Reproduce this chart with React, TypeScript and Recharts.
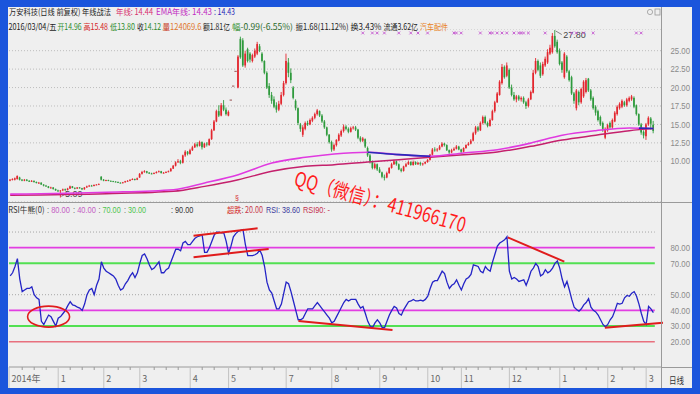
import React from "react";
import { ComposedChart, Bar, Line, XAxis, YAxis, CartesianGrid, ReferenceLine, ReferenceDot } from "recharts";

const UP = "#e3262e";
const DOWN = "#2e9a3c";
const FONT = '"Liberation Sans", Arial, "Noto Sans CJK SC", sans-serif';
const CJK = '"Noto Sans CJK SC", "Liberation Sans", sans-serif';

const opens = [
  7.4,7.5,7.5,7.6,7.8,7.5,7.4,7.5,7.35,7.3,
  7.35,7.2,7.05,7.1,6.85,6.7,6.6,6.4,6.45,6.25,
  6.05,5.95,6.05,6.2,6.1,6.3,6.6,6.4,6.3,6.45,
  6.35,6.2,6.45,6.6,6.7,6.65,6.8,6.85,7.9,7.5,
  7.4,7.45,7.35,7.3,7.25,7.2,7.1,7.05,7.15,7.3,
  7.35,7.5,7.6,7.5,7.8,8.3,8.55,8.65,8.45,8.35,
  8.3,8.4,8.55,8.65,8.4,8.45,8.55,8.65,9.0,9.4,
  9.85,10.0,9.8,10.8,11.3,11.0,11.5,11.9,12.3,12.1,
  12.6,11.9,12.4,12.2,13.0,14.2,15.4,16.8,16.2,17.6,
  17.0,16.2,18.3,20.2,22.2,20.0,26.6,26.4,23.0,25.2,
  24.6,23.6,24.2,24.6,25.6,24.6,23.6,22.0,20.2,19.0,
  18.4,17.6,17.0,17.8,19.0,20.6,23.4,22.0,20.0,18.2,
  17.2,15.0,13.6,14.4,15.2,15.0,15.5,15.9,16.4,16.8,
  16.2,15.4,14.6,13.6,12.6,11.6,12.2,12.8,13.5,14.1,
  14.7,14.4,14.0,14.5,14.6,14.3,13.2,12.8,13.0,11.8,
  10.8,9.9,9.1,9.6,8.9,8.5,7.9,7.8,8.4,9.1,
  9.6,10.0,9.6,8.9,8.7,9.3,9.6,9.9,9.5,9.9,
  9.6,9.8,9.6,9.7,9.9,10.2,10.9,11.6,11.5,11.6,
  12.0,12.4,12.2,11.5,11.2,11.5,11.7,12.0,11.6,11.3,
  11.8,12.2,12.4,12.8,13.8,14.6,14.2,15.2,16.0,15.2,
  14.8,15.6,16.8,18.0,19.0,20.6,22.8,21.6,22.4,20.0,
  19.0,18.4,18.8,18.4,18.6,18.0,17.5,18.4,19.3,22.0,
  23.6,23.0,21.8,23.0,23.4,24.6,24.8,27.0,26.2,25.0,
  23.4,21.4,24.2,22.2,21.4,19.2,17.2,19.4,18.0,18.8,
  19.4,21.2,19.6,18.6,17.4,16.8,16.0,15.2,13.2,14.2,
  15.2,14.6,15.4,16.4,17.2,17.4,18.0,17.6,18.2,18.4,
  18.6,17.6,16.4,15.0,14.0,13.4,15.0,15.8,14.96,
];

const closes = [
  7.5,7.6,7.7,8.0,7.5,7.4,7.5,7.35,7.3,7.35,
  7.2,7.05,7.1,6.85,6.7,6.6,6.4,6.45,6.25,6.05,
  5.95,6.05,6.2,6.1,6.3,6.6,6.4,6.3,6.45,6.35,
  6.2,6.45,6.6,6.7,6.65,6.8,6.85,6.9,7.5,7.4,
  7.45,7.35,7.3,7.25,7.2,7.1,7.05,7.15,7.3,7.35,
  7.5,7.6,7.5,7.7,8.3,8.55,8.65,8.45,8.35,8.3,
  8.4,8.55,8.65,8.4,8.45,8.55,8.65,9.0,9.4,9.85,
  10.0,9.8,10.8,11.3,11.0,11.5,11.9,12.3,12.1,12.6,
  11.9,12.4,12.3,13.0,14.2,15.4,16.8,16.2,17.6,17.0,
  16.4,16.7,18.3,20.2,22.2,24.2,24.1,23.0,24.6,23.6,
  23.8,24.4,25.0,25.9,25.0,23.6,22.0,20.0,19.0,18.2,
  17.4,17.0,17.8,19.0,20.6,23.6,22.0,21.0,18.6,17.2,
  15.2,14.4,14.6,15.2,15.0,15.6,15.9,16.4,16.9,16.2,
  15.4,14.6,13.6,12.6,11.6,12.2,12.9,13.6,14.1,14.7,
  14.4,14.0,14.5,14.6,14.3,13.2,12.8,13.1,12.0,10.8,
  9.9,9.1,9.6,8.9,8.5,7.9,7.8,8.4,9.1,9.6,
  10.0,9.6,8.9,8.7,9.3,9.6,9.9,9.5,9.9,9.6,
  9.8,9.6,9.7,9.9,10.2,10.9,11.6,11.5,11.6,12.0,
  12.4,12.2,11.5,11.2,11.5,11.7,12.0,11.6,11.3,11.8,
  12.2,12.4,12.8,13.8,14.6,14.2,15.2,16.0,15.2,14.8,
  15.6,16.8,18.0,19.2,20.8,22.8,21.4,23.0,20.0,19.0,
  18.4,18.8,18.4,18.6,18.0,17.5,18.4,19.4,22.0,23.6,
  22.4,21.6,23.2,23.9,24.8,25.4,27.0,25.6,24.8,23.2,
  22.4,24.6,22.2,21.0,19.2,18.2,19.6,18.0,19.8,20.8,
  21.0,19.6,18.4,17.2,16.6,15.6,15.0,14.4,14.4,14.9,
  14.6,15.6,16.6,17.4,17.8,18.2,17.6,18.4,18.6,18.8,
  17.4,16.4,15.0,13.9,13.5,15.0,15.9,15.1,14.12,
];

const highs = [
  7.6,7.7,7.8,8.1,7.9,7.6,7.6,7.6,7.45,7.45,
  7.4,7.25,7.2,7.15,6.9,6.8,6.65,6.55,6.5,6.3,
  6.15,6.1,6.3,6.3,6.4,6.7,6.65,6.45,6.5,6.5,
  6.4,6.5,6.7,6.8,6.8,6.85,6.9,7.0,8.0,7.6,
  7.5,7.5,7.4,7.35,7.3,7.25,7.15,7.2,7.35,7.45,
  7.55,7.7,7.65,7.8,8.4,8.7,8.8,8.7,8.55,8.45,
  8.5,8.65,8.75,8.7,8.55,8.65,8.75,9.1,9.5,10.0,
  10.3,10.2,10.9,11.5,11.4,11.7,12.1,12.5,12.6,12.8,
  12.7,12.5,12.6,13.1,14.4,15.6,17.0,17.6,17.9,18.3,
  17.3,16.9,18.3,20.2,22.2,24.4,26.9,26.7,25.0,25.4,
  24.8,24.6,25.3,26.2,25.9,24.8,23.7,22.2,20.6,19.4,
  18.8,18.0,18.2,19.4,20.9,24.6,24.0,22.6,20.2,18.4,
  17.3,15.2,14.9,15.4,15.5,15.8,16.1,16.6,17.1,16.9,
  16.4,15.6,14.7,13.7,12.8,12.4,13.0,13.8,14.3,15.0,
  14.9,14.6,14.7,14.8,14.8,14.4,13.4,13.3,13.1,12.0,
  11.0,10.1,9.8,9.7,9.2,8.6,8.2,8.6,9.2,9.8,
  10.2,10.1,9.7,9.1,9.4,9.8,10.1,10.0,10.1,10.0,
  9.9,9.9,9.8,10.0,10.3,11.0,11.8,11.9,11.8,12.2,
  12.6,12.5,12.3,11.6,11.7,11.9,12.2,12.1,11.7,11.9,
  12.3,12.6,13.0,14.0,14.8,14.8,15.4,16.2,16.2,15.4,
  15.8,17.0,18.2,19.4,21.0,23.2,23.0,23.4,22.6,20.4,
  19.4,19.0,19.0,18.8,18.8,18.2,18.6,19.6,22.4,24.0,
  23.8,23.4,23.5,24.2,25.2,25.8,27.4,27.8,26.5,25.3,
  23.6,24.8,24.4,22.4,21.6,19.4,19.8,19.6,20.0,21.0,
  21.3,21.3,19.8,18.8,17.6,17.0,16.2,15.4,14.6,15.1,
  15.4,15.8,16.8,17.6,18.0,18.4,18.2,18.6,18.8,19.0,
  18.8,17.7,16.5,15.2,14.2,15.2,16.1,16.0,15.48,
];

const lows = [
  7.3,7.4,7.4,7.5,7.4,7.3,7.3,7.3,7.2,7.2,
  7.1,7.0,6.95,6.8,6.6,6.55,6.35,6.3,6.15,6.0,
  5.85,5.09,5.95,6.0,6.05,6.25,6.35,6.2,6.25,6.3,
  6.1,6.15,6.4,6.55,6.6,6.6,6.75,6.8,7.4,7.3,
  7.3,7.3,7.25,7.2,7.15,7.05,7.0,7.0,7.1,7.25,
  7.3,7.45,7.4,7.45,7.75,8.2,8.45,8.35,8.3,8.25,
  8.25,8.35,8.5,8.35,8.35,8.4,8.5,8.6,8.95,9.3,
  9.8,9.6,9.7,10.6,10.8,10.9,11.4,11.8,11.9,12.0,
  11.6,11.8,12.0,12.1,12.9,14.1,15.3,16.0,16.1,16.8,
  16.2,16.1,18.3,20.2,22.2,19.9,23.9,22.8,22.7,23.4,
  23.4,23.4,24.0,24.4,24.8,23.4,21.8,19.8,18.6,17.8,
  17.2,16.6,16.8,17.6,18.8,20.4,21.4,20.6,18.4,16.9,
  14.9,14.0,13.3,14.2,14.8,14.9,15.3,15.7,16.2,16.0,
  15.2,14.4,13.4,12.4,11.3,11.4,12.0,12.7,13.3,13.9,
  14.2,13.8,13.9,14.3,14.1,13.0,12.6,12.6,11.8,10.6,
  9.7,8.9,8.9,8.7,8.4,7.7,7.4,7.7,8.3,9.0,
  9.5,9.4,8.8,8.5,8.6,9.2,9.5,9.4,9.4,9.5,
  9.5,9.4,9.4,9.6,9.8,10.1,10.8,11.3,11.3,11.5,
  11.9,12.0,11.4,11.0,11.1,11.4,11.6,11.5,11.1,11.2,
  11.7,12.1,12.3,12.7,13.6,14.0,14.1,15.0,15.0,14.6,
  14.7,15.5,16.6,17.9,18.9,20.4,21.2,21.4,19.8,18.8,
  18.2,18.0,18.2,18.1,17.8,17.1,17.3,18.3,19.2,21.8,
  22.2,21.3,21.6,22.8,23.2,24.4,24.6,25.4,24.6,23.0,
  22.0,21.2,22.0,20.8,19.0,17.8,16.9,17.6,17.8,18.6,
  19.2,19.4,18.2,17.0,16.2,15.4,14.8,14.0,13.0,14.0,
  14.4,14.4,15.3,16.2,17.0,17.2,17.4,17.4,18.0,18.2,
  17.2,16.2,14.8,13.6,13.1,12.9,14.8,14.3,13.80,
];

const rsiValues = [
  62,64,68,73,60,52,53,54,54,55,
  50,48,47,33,31,34,37,36,33,30,
  35,36,38,40,43,45.5,43.5,43,42,41.5,
  40,44,50,53,54,50,56,60,71,67,
  65,64,63,62,60,56,53,54,57,59,
  62,64,61,64,70,75,76,73,69,66,
  67,69,71,64,64,66,67,71,75,79,
  79,78,83,84,82,82,84,86,87,87.5,
  88,77,77,80,84,88,90,90,89.5,89.5,
  84,76.5,81,87,89,90.5,91,91.5,82,75,
  75,75,75.5,76.5,78.5,75,68,58,53,51,
  46,41,41,44,51,58,57,52,46,40,
  34,34,35,38,41,41,41,43,45,43,
  41,39,37,35,32,33,36,39,42,45,
  47,46,47,47,47,44,41.5,42.5,38,33,
  30,29,32,34,32,29,29,33,37,40,
  42.5,41.5,38,37,40.5,43,45.5,46,47,46,
  46,46.5,46,47,49,54,58,59,59,62,
  65,63.5,58,54,56,57,59.5,56,53,57,
  60,61,63,69,68.5,68,65,64,68,66,
  65,71,76,81,83,84,85,87,65,60,
  61,60,58.5,59,59.5,56,60,65,67,70,
  68,62,63,66,64,65,67,70,71.5,67,
  60,55,58.5,53,47,42,40.5,39.5,41,43.5,
  45,47.5,42,40,39,37,34,31,29.5,31,
  34,36,40,44.5,44,44.5,48,49.5,49,51,
  52,49,44,38,33,31,42.5,41,38.6,
];

// moving-average key readings (index, value)
const emaIdx = [0, 40, 68, 81, 95, 109, 123, 135, 149, 162, 175, 189, 203, 217, 230, 244, 258, 268];
const emaVals = [5.55, 5.8, 6.15, 7.06, 8.18, 9.77, 10.54, 10.99, 11.22, 10.9, 10.68, 11.13, 11.57, 12.48, 13.53, 14.15, 14.52, 14.44];
const maIdx = [0, 40, 68, 81, 95, 109, 123, 135, 149, 162, 175, 189, 203, 217, 230, 244, 258, 268];
const maVals = [5.4, 5.6, 5.93, 6.6, 7.5, 8.64, 9.32, 9.54, 9.9, 10.22, 10.54, 10.9, 11.26, 12.03, 12.89, 13.53, 14.15, 14.43];
const blueAIdx = [149, 162, 175];
const blueAVals = [11.22, 10.9, 10.68];
const blueBIdx = [262, 268];
const blueBVals = [14.5, 14.44];

const markIdx = [147, 151, 153, 156, 162, 167, 170, 174, 185, 186, 188, 196, 200, 201, 203, 205, 207, 210, 212, 213, 214, 216, 223, 234, 236, 239, 243, 261, 263];

const priceTicks = [10, 12.5, 15, 17.5, 20, 22.5, 25];
const rsiTicks = [20, 30, 40, 50, 70, 80];
const rsiLevels = [90, 80, 70, 50, 40, 30, 20];
const monthTickIdx = [-0.5, 20, 39, 54, 75, 91, 115, 134, 154, 174, 188, 208, 229, 249, 265];
const monthLabels = ["2014年", "1", "2", "3", "4", "5", "7", "8", "9", "10", "11", "12", "1", "2", "3"];

// hand-drawn annotations on the RSI pane: [x1, y1, x2, y2] in (index, RSI) units
const redSegments = [
  [76.4, 87.7, 103.1, 92.4],
  [76.4, 73.9, 107.7, 79.2],
  [120.1, 33.2, 159.3, 27.5],
  [207.3, 86.6, 230.9, 71.1],
  [247.8, 28.9, 272, 32.1],
];
const circleAt = { i: 16, v: 36 };

const X_DOMAIN: [number, number] = [-0.5, 271.6];
const PRICE_DOMAIN: [number, number] = [4.48, 27.94];
const RSI_DOMAIN: [number, number] = [3.85, 107.9];

const hiIdx = highs.indexOf(Math.max(...highs));
const loIdx = lows.indexOf(Math.min(...lows));

function sparse(idx: number[], vals: number[], i: number) {
  const k = idx.indexOf(i);
  return k >= 0 ? vals[k] : null;
}

const rows = closes.map((c, i) => ({
  i,
  o: opens[i],
  c,
  h: highs[i],
  l: lows[i],
  range: [lows[i], highs[i]],
  rsi: rsiValues[i],
  ema: sparse(emaIdx, emaVals, i),
  ma: sparse(maIdx, maVals, i),
  blueA: sparse(blueAIdx, blueAVals, i),
  blueB: sparse(blueBIdx, blueBVals, i),
  mark: markIdx.includes(i),
  hi: i === hiIdx,
  lo: i === loIdx,
}));

function Candle(props: any) {
  const { x, y, width, height, payload } = props;
  if (x == null || y == null || !payload) return null;
  const { o, c, h, l } = payload;
  const cx = x + (width || 0) / 2;
  const hh = height || 0;
  const top = Math.min(y, y + hh);
  const bot = Math.max(y, y + hh);
  const span = h - l;
  const py = (v: number) => (span > 0 ? top + ((h - v) / span) * (bot - top) : top);
  const up = c >= o;
  const col = up ? UP : DOWN;
  const els: any[] = [];
  if (span <= 0) {
    els.push(<rect key="d" x={cx - 1.2} y={top - 0.5} width={2.4} height={1} fill="#9a5050" />);
  } else {
    const bt = Math.min(py(o), py(c));
    const bb = Math.max(py(o), py(c));
    els.push(<line key="w" x1={cx} x2={cx} y1={top} y2={bot} stroke={col} strokeWidth={0.9} />);
    els.push(<rect key="b" x={cx - 0.85} y={bt} width={1.7} height={Math.max(bb - bt, 0.9)} fill={col} />);
    if (payload.mark) {
      const my = py(27.4);
      els.push(
        <g key="m" stroke="#c455cf" strokeWidth={0.9}>
          <line x1={cx - 1.4} y1={my - 1.4} x2={cx + 1.4} y2={my + 1.4} />
          <line x1={cx - 1.4} y1={my + 1.4} x2={cx + 1.4} y2={my - 1.4} />
        </g>
      );
    }
    if (payload.hi) {
      els.push(<line key="hl" x1={cx + 1} y1={top + 1} x2={cx + 7} y2={top + 4.5} stroke="#555" strokeWidth={0.7} />);
      els.push(
        <text key="ht" x={cx + 8.5} y={top + 8} fontSize={9} fill="#444" fontFamily={FONT}>
          {h.toFixed(2)}
        </text>
      );
    }
    if (payload.lo) {
      els.push(<line key="ll" x1={cx + 1} y1={bot - 1} x2={cx + 4} y2={bot - 3} stroke="#555" strokeWidth={0.7} />);
      els.push(
        <text key="lt" x={cx + 4.5} y={bot - 0.5} fontSize={9} fill="#444" fontFamily={FONT}>
          {l.toFixed(2)}
        </text>
      );
    }
  }
  return <g>{els}</g>;
}

function AxisLabel(props: any) {
  const { y, payload } = props;
  return (
    <text x={662.5} y={y + 3.2} fontSize={8.4} fill="#8a8a8a" fontFamily={FONT} textLength={19.5} lengthAdjust="spacingAndGlyphs">
      {Number(payload.value).toFixed(2)}
    </text>
  );
}

const minorTicks: number[] = [];
for (let k = 5; k < 269; k += 5) minorTicks.push(k);
const allTicks = [...monthTickIdx, ...minorTicks.filter((m) => monthTickIdx.every((t) => Math.abs(t - m) > 1.5))];

function MonthTick(props: any) {
  const { x, payload } = props;
  const k = monthTickIdx.indexOf(payload.value);
  if (k < 0) {
    return <line x1={x} x2={x} y1={163} y2={166} stroke="#9a9a9a" strokeWidth={1} />;
  }
  return (
    <g>
      <line x1={x} x2={x} y1={163} y2={184} stroke="#c2c2c2" strokeWidth={1} />
      <text x={x + 2.5} y={177.5} fontSize={9} fill="#666" fontFamily={CJK}>
        {monthLabels[k]}
      </text>
    </g>
  );
}

function levelStyle(v: number) {
  if (v === 90 || v === 50) return { stroke: "#a6a6a6", strokeWidth: 1, strokeDasharray: "1 2" };
  if (v === 80 || v === 40) return { stroke: "#e23ee2", strokeWidth: 1.8 };
  if (v === 70 || v === 30) return { stroke: "#52e052", strokeWidth: 2 };
  return { stroke: "#e8707e", strokeWidth: 1.4 };
}

function T(p: any) {
  const { x, y, w, fill = "#1c1c1c", size = 8.5, font = CJK, children } = p;
  return (
    <text x={x} y={y} fill={fill} fontSize={size} fontFamily={font} textLength={w} lengthAdjust="spacingAndGlyphs">
      {children}
    </text>
  );
}

export default function App() {
  return (
    <div style={{ position: "fixed", left: 0, top: 0, width: 700, height: 394, background: "#1b55dc", overflow: "hidden" }}>
      <div style={{ position: "absolute", left: 8, top: 7, width: 684, height: 381, background: "#efefef" }} />
      <div style={{ position: "absolute", left: 8, top: 29 }}>
        <ComposedChart width={684} height={173} data={rows} margin={{ top: 0, right: 0, bottom: 0, left: 1 }}>
          <CartesianGrid vertical={false} stroke="#bdbdbd" strokeDasharray="1 2" />
          <XAxis type="number" dataKey="i" domain={X_DOMAIN} allowDataOverflow hide />
          <YAxis orientation="right" width={30} domain={PRICE_DOMAIN} ticks={priceTicks} allowDataOverflow axisLine={false} tickLine={false} interval={0} tick={AxisLabel} />
          <Bar dataKey="range" barSize={2} shape={Candle} isAnimationActive={false} />
          <Line dataKey="ma" type="monotone" stroke="#c4206c" strokeWidth={1.5} dot={false} connectNulls isAnimationActive={false} />
          <Line dataKey="ema" type="monotone" stroke="#e03ae0" strokeWidth={1.6} dot={false} connectNulls isAnimationActive={false} />
          <Line dataKey="blueA" type="monotone" stroke="#2a2ab8" strokeWidth={1.6} dot={false} connectNulls isAnimationActive={false} />
          <Line dataKey="blueB" type="monotone" stroke="#2a2ab8" strokeWidth={1.6} dot={false} connectNulls isAnimationActive={false} />
        </ComposedChart>
      </div>
      <div style={{ position: "absolute", left: 8, top: 204 }}>
        <ComposedChart width={684} height={184} data={rows} margin={{ top: 0, right: 0, bottom: 0, left: 1 }}>
          <XAxis type="number" dataKey="i" domain={X_DOMAIN} allowDataOverflow ticks={allTicks} interval={0} height={21} axisLine={{ stroke: "#9a9a9a" }} tickLine={false} tick={MonthTick} />
          <YAxis orientation="right" width={30} domain={RSI_DOMAIN} ticks={rsiTicks} allowDataOverflow axisLine={false} tickLine={false} interval={0} tick={AxisLabel} />
          {rsiLevels.map((v) => (
            <ReferenceLine key={v} segment={[{ x: -0.5, y: v }, { x: 268.6, y: v }]} {...levelStyle(v)} />
          ))}
          <Line dataKey="rsi" type="linear" stroke="#2424c6" strokeWidth={1.3} dot={false} isAnimationActive={false} />
          {redSegments.map((s, k) => (
            <ReferenceLine key={"r" + k} segment={[{ x: s[0], y: s[1] }, { x: s[2], y: s[3] }]} stroke="#e01c1c" strokeWidth={2} ifOverflow="visible" />
          ))}
          <ReferenceDot
            x={circleAt.i}
            y={circleAt.v}
            r={0}
            ifOverflow="visible"
            shape={(p: any) => <ellipse cx={p.cx} cy={p.cy} rx={21} ry={10.5} fill="none" stroke="#e01c1c" strokeWidth={1.6} />}
          />
        </ComposedChart>
      </div>
      <svg width={700} height={394} style={{ position: "absolute", left: 0, top: 0, pointerEvents: "none" }}>
        <line x1={661.5} x2={661.5} y1={7} y2={388} stroke="#9a9a9a" />
        <line x1={8} x2={692} y1={202.5} y2={202.5} stroke="#9a9a9a" />
        <line x1={661.5} x2={692} y1={367.5} y2={367.5} stroke="#9a9a9a" />
        <circle cx={650} cy={12} r={2.6} fill="none" stroke="#9a9a9a" strokeWidth={0.8} />
        <rect x={655} y={9} width={5} height={6} fill="none" stroke="#9a9a9a" strokeWidth={0.8} />
        {/* header line 1 */}
        <T x={9} y={15} w={102}>万安科技(日线 前复权) 年线战法</T>
        <T x={116} y={15} w={37} fill="#d8306e">年线: 14.44</T>
        <T x={156} y={15} w={56} fill="#c22cc2">EMA年线: 14.43</T>
        <T x={214} y={15} w={21} fill="#2626b8">: 14.43</T>
        {/* header line 2 */}
        <T x={8.5} y={29.5} w={48}>2016/03/04/五</T>
        <T x={57.5} y={29.5} w={24} fill="#2c8c2c">开14.96</T>
        <T x={83.5} y={29.5} w={24.5} fill="#d42424">高15.48</T>
        <T x={110} y={29.5} w={25} fill="#2c8c2c">低13.80</T>
        <text x={137} y={29.5} fontSize={8.5} fontFamily={CJK} textLength={24} lengthAdjust="spacingAndGlyphs">
          <tspan fill="#1c1c1c">收</tspan>
          <tspan fill="#2c8c2c">14.12</tspan>
        </text>
        <text x={162.5} y={29.5} fontSize={8.5} fontFamily={CJK} textLength={39} lengthAdjust="spacingAndGlyphs">
          <tspan fill="#c83a20">量</tspan>
          <tspan fill="#e0782e">124069.6</tspan>
        </text>
        <T x={203} y={29.5} w={27}>额1.81亿</T>
        <text x={232} y={29.5} fontSize={8.5} fontFamily={CJK} textLength={61} lengthAdjust="spacingAndGlyphs">
          <tspan fill="#2c8c2c">幅</tspan>
          <tspan fill="#2c6a2c">-0.99(-6.55%)</tspan>
        </text>
        <T x={295.5} y={29.5} w={53}>振1.68(11.12%)</T>
        <T x={350.5} y={29.5} w={31}>换3.43%</T>
        <T x={383.5} y={29.5} w={34.5}>流通3.62亿</T>
        <T x={420} y={29.5} w={28} fill="#e8821e">汽车配件</T>
        {/* RSI header */}
        <T x={8.3} y={212.5} w={36.2} fill="#333">RSI牛熊(0)</T>
        <text x={47} y={212.5} fontSize={8.5} fontFamily={FONT} textLength={23} lengthAdjust="spacingAndGlyphs">
          <tspan fill="#666">: </tspan>
          <tspan fill="#c45cc4">80.00</tspan>
        </text>
        <text x={73} y={212.5} fontSize={8.5} fontFamily={FONT} textLength={23} lengthAdjust="spacingAndGlyphs">
          <tspan fill="#666">: </tspan>
          <tspan fill="#c45cc4">40.00</tspan>
        </text>
        <text x={98.5} y={212.5} fontSize={8.5} fontFamily={FONT} textLength={22.2} lengthAdjust="spacingAndGlyphs">
          <tspan fill="#666">: </tspan>
          <tspan fill="#4cc44c">70.00</tspan>
        </text>
        <text x={124} y={212.5} fontSize={8.5} fontFamily={FONT} textLength={22} lengthAdjust="spacingAndGlyphs">
          <tspan fill="#666">: </tspan>
          <tspan fill="#4cc44c">30.00</tspan>
        </text>
        <T x={171} y={212.5} w={22.3} fill="#333" font={FONT}>: 90.00</T>
        <text x={227} y={212.5} fontSize={8.5} fontFamily={CJK} textLength={36} lengthAdjust="spacingAndGlyphs">
          <tspan fill="#d42a2a">超跌</tspan>
          <tspan fill="#666">: </tspan>
          <tspan fill="#c8384c">20.00</tspan>
        </text>
        <text x={266} y={212.5} fontSize={8.5} fontFamily={FONT} textLength={34} lengthAdjust="spacingAndGlyphs">
          <tspan fill="#3a3a9c">RSI: 38.60</tspan>
        </text>
        <T x={303} y={212.5} w={27} fill="#c43050" font={FONT}>RSI90: -</T>
        <text x={235} y={200} fontSize={7} fill="#d42a2a" fontFamily={FONT}>§</text>
        <T x={669} y={384} w={15} fill="#333" size={9}>日线</T>
        {/* watermark annotation */}
        <text
          x={293}
          y={185}
          fill="#ff1c1c"
          fontSize={20}
          fontFamily={CJK}
          transform="rotate(15.5 293 185)"
          textLength={177}
          lengthAdjust="spacingAndGlyphs"
        >
          QQ（微信）：411966170
        </text>
      </svg>
    </div>
  );
}
